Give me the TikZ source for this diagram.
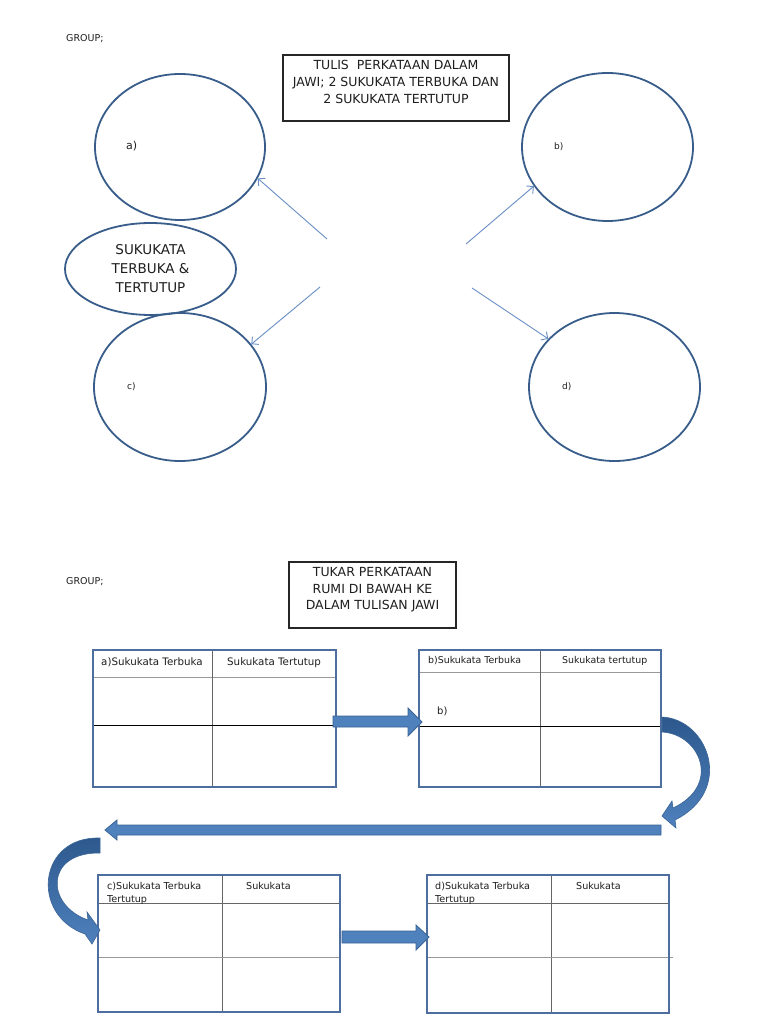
\documentclass[tikz,border=0pt]{standalone}
\usepackage{fontspec}
\setmainfont{DejaVu Sans}
\usetikzlibrary{shapes.geometric,arrows.meta}
\definecolor{ellblue}{RGB}{56,93,138}
\definecolor{thinblue}{RGB}{104,142,198}
\definecolor{tabblue}{RGB}{79,110,160}
\definecolor{arrfill}{RGB}{79,129,189}
\definecolor{arrdark}{RGB}{44,88,140}
\definecolor{arredge}{RGB}{58,100,150}
\definecolor{txt}{RGB}{30,30,30}
\begin{document}
\begin{tikzpicture}[x=1pt,y=-1pt,
  ell/.style={ellipse, draw=ellblue, line width=1.8pt, inner sep=0pt, text=txt},
  txtbox/.style={draw=black!85, line width=1.1pt, inner sep=0pt},
  thinarr/.style={draw=thinblue, line width=0.9pt, -{Straight Barb[length=5pt,width=10pt]}},
  tabbox/.style={draw=tabblue, line width=1.8pt, inner sep=0pt},
  hdrline/.style={draw=black!40, line width=1pt},
  divline/.style={draw=black!60, line width=1pt},
  midline/.style={draw=black, line width=1pt},
  blockarr/.style={fill=arrfill, draw=arredge, line width=0.8pt},
  curvarr/.style={top color=arrdark, bottom color=arrfill, draw=arredge, line width=0.6pt},
  lbl/.style={anchor=west, inner sep=0pt, text=txt},
  hb/.style={anchor=base west, inner sep=0pt, text=txt},
  ]
\useasboundingbox (0,0) rectangle (768,1024);
\fill[white] (0,0) rectangle (768,1024);

% ---------- top part ----------
\node[hb, font=\fontsize{9.5}{11}\selectfont] (g1) at (66,41.5) {GROUP;};
\node[txtbox, minimum width=226pt, minimum height=66pt] (box1) at (396,88) {};
\node[align=center, inner sep=0pt, text=txt, font=\fontsize{12.5}{17}\selectfont] (t1) at (396,82)
  {TULIS\ \ PERKATAAN DALAM\\JAWI; 2 SUKUKATA TERBUKA DAN\\2 SUKUKATA TERTUTUP};

\node[ell, minimum width=170pt, minimum height=146pt] (ea) at (180,147) {};
\node[ell, minimum width=171pt, minimum height=92pt, align=center,
      font=\fontsize{13.5}{19}\selectfont] (es) at (150.5,269) {SUKUKATA\\TERBUKA \&\\TERTUTUP};
\node[ell, minimum width=172pt, minimum height=148pt] (ec) at (180,387) {};
\node[ell, minimum width=171pt, minimum height=148pt] (eb) at (607.5,147) {};
\node[ell, minimum width=171pt, minimum height=148pt] (ed) at (614.5,387) {};

\node[lbl, font=\fontsize{11}{13}\selectfont] (la) at (126,146) {a)};
\node[lbl, font=\fontsize{9}{11}\selectfont] (lb) at (554,147) {b)};
\node[lbl, font=\fontsize{9}{11}\selectfont] (lc) at (127,387) {c)};
\node[lbl, font=\fontsize{9}{11}\selectfont] (ld) at (562,387) {d)};

\coordinate (s1) at (327,239);
\coordinate (s2) at (320,287);
\coordinate (s3) at (466,244);
\coordinate (s4) at (472,288);
\draw[thinarr] (s1) -- (ea.-22);
\draw[thinarr] (s2) -- (ec.31);
\draw[thinarr] (s3) -- (eb.208);
\draw[thinarr] (s4) -- (ed.144);

% ---------- bottom part ----------
\node[hb, font=\fontsize{9.5}{11}\selectfont] (g2) at (66,584.5) {GROUP;};
\node[txtbox, minimum width=167pt, minimum height=66pt] (box2) at (372.5,595) {};
\node[align=center, inner sep=0pt, text=txt, font=\fontsize{12.5}{16.5}\selectfont] (t2) at (372.5,590)
  {TUKAR PERKATAAN\\RUMI DI BAWAH KE\\DALAM TULISAN JAWI};

% table a
\draw[hdrline] (93,677) -- (336,677);
\draw[divline] (212,650) -- (212,787);
\draw[midline] (93,725) -- (336,725);
\node[tabbox, minimum width=243pt, minimum height=137pt] (ta) at (214.5,718.5) {};
\node[hb, font=\fontsize{10.3}{12}\selectfont] (ha1) at (101,665) {a)Sukukata Terbuka};
\node[hb, font=\fontsize{10.3}{12}\selectfont] (ha2) at (227,665) {Sukukata Tertutup};

% table b
\draw[hdrline] (419,672) -- (661,672);
\draw[divline] (540,650) -- (540,787);
\draw[midline] (419,726) -- (661,726);
\node[tabbox, minimum width=242pt, minimum height=137pt] (tb) at (540,718.5) {};
\node[hb, font=\fontsize{9.4}{11}\selectfont] (hb1) at (428,663.5) {b)Sukukata Terbuka};
\node[hb, font=\fontsize{9.4}{11}\selectfont] (hb2) at (562,663.5) {Sukukata tertutup};
\node[lbl, font=\fontsize{10}{12}\selectfont] (lbt) at (437,711) {b)};

% table c
\draw[divline] (98,903) -- (340,903);
\draw[divline] (222,875) -- (222,1012);
\draw[hdrline] (98,957) -- (340,957);
\node[tabbox, minimum width=242pt, minimum height=137pt] (tc) at (219,943.5) {};
\node[hb, font=\fontsize{9.6}{11}\selectfont] (hc1) at (107,889.5) {c)Sukukata Terbuka};
\node[hb, font=\fontsize{9.6}{11}\selectfont] (hc2) at (107,902.5) {Tertutup};
\node[hb, font=\fontsize{9.6}{11}\selectfont] (hc3) at (246,889.5) {Sukukata};

% table d
\draw[divline] (427,903) -- (669,903);
\draw[divline] (551,875) -- (551,1013);
\draw[hdrline] (427,957) -- (673,957);
\node[tabbox, minimum width=242pt, minimum height=138pt] (td) at (548,944) {};
\node[hb, font=\fontsize{9.6}{11}\selectfont] (hd1) at (435,889.5) {d)Sukukata Terbuka};
\node[hb, font=\fontsize{9.6}{11}\selectfont] (hd2) at (435,902.5) {Tertutup};
\node[hb, font=\fontsize{9.6}{11}\selectfont] (hd3) at (576,889.5) {Sukukata};

% block arrows
\draw[blockarr] (333,716) -- (408,716) -- (408,708) -- (422,722) -- (408,736) -- (408,727) -- (333,727) -- cycle;
\draw[blockarr] (661,825) -- (117,825) -- (117,820) -- (105,830) -- (117,840) -- (117,835) -- (661,835) -- cycle;
\draw[blockarr] (342,931) -- (416,931) -- (416,925) -- (429,937) -- (416,950) -- (416,943) -- (342,943) -- cycle;

% curved arrows
\path[curvarr] (662,717) .. controls (708,719) and (735,790) .. (675,820)
  -- (676,828) -- (662,816) -- (672,801) -- (673,808)
  .. controls (722,785) and (700,734) .. (662,732) -- cycle;
\path[curvarr] (100,838) .. controls (38,836) and (30,915) .. (85,934)
  -- (92,944) -- (100,930) -- (87,912) -- (88,920)
  .. controls (45,905) and (45,852) .. (100,853) -- cycle;
\end{tikzpicture}
\end{document}
